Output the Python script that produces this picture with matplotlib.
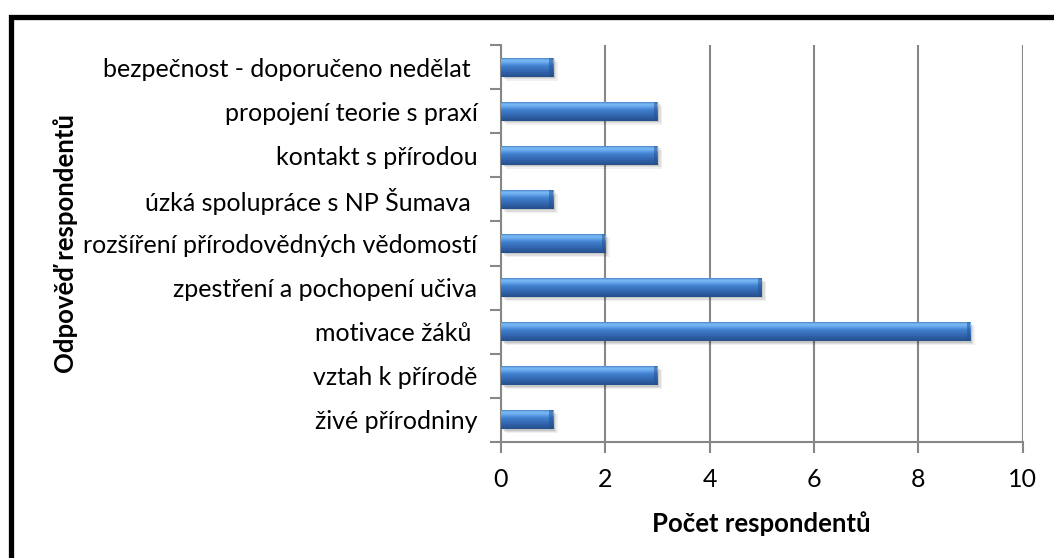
import numpy as np
import matplotlib
matplotlib.use('Agg')
import matplotlib.pyplot as plt
from matplotlib.colors import LinearSegmentedColormap
from matplotlib.patches import Rectangle

# categories listed top to bottom as in the chart
categories = [
    'bezpečnost - doporučeno nedělat ',
    'propojení teorie s praxí',
    'kontakt s přírodou',
    'úzká spolupráce s NP Šumava ',
    'rozšíření přírodovědných vědomostí',
    'zpestření a pochopení učiva',
    'motivace žáků ',
    'vztah k přírodě',
    'živé přírodniny',
]
counts = [1, 3, 3, 1, 2, 5, 9, 3, 1]
x_ticks = [0, 2, 4, 6, 8, 10]

plt.rcParams['font.family'] = ['Lato', 'DejaVu Sans']
grey = '#878787'

W, H = 1054, 558
fig = plt.figure(figsize=(W / 100, H / 100), dpi=100)
ax = fig.add_axes([501 / W, 1 - 442 / H, 521.5 / W, 397 / H])

y = np.arange(len(categories))[::-1]
bars = ax.barh(y, counts, height=0.43, color='#3d78c6', zorder=3)

# cylinder-like shading on each bar
shade = LinearSegmentedColormap.from_list('bar', [
    (0.00, '#24508c'), (0.30, '#3366b0'), (0.60, '#4282d0'),
    (0.80, '#6eaef0'), (0.90, '#78b8f4'), (1.00, '#4c88cc')])
grad = np.linspace(0, 1, 64).reshape(-1, 1)
for b in bars:
    x0, y0, w, h = b.get_x(), b.get_y(), b.get_width(), b.get_height()
    for k, a in [(0.09, 0.06), (0.06, 0.08), (0.03, 0.10)]:
        ax.add_patch(Rectangle((x0 + k, y0 - k), w, h, color='#000000',
                               alpha=a, lw=0, zorder=2))
    ax.imshow(grad, extent=(x0, x0 + w, y0, y0 + h), origin='lower',
              aspect='auto', cmap=shade, zorder=4)
    # darker end cap
    ax.add_patch(Rectangle((x0 + w - 0.07, y0), 0.07, h, color='#24508c',
                           alpha=0.5, lw=0, zorder=5))

ax.set_xlim(0, 10)
ax.set_ylim(-0.5, len(categories) - 0.5)
ax.set_xticks(x_ticks)
ax.set_xticklabels([str(v) for v in x_ticks], fontsize=18)
ax.set_yticks(y)
ax.set_yticklabels(categories, fontsize=18)
ax.set_yticks(np.arange(-0.5, len(categories), 1.0), minor=True)
ax.tick_params(axis='y', which='major', length=0, pad=17)
ax.tick_params(axis='y', which='minor', length=8, width=1.5, color=grey)
ax.tick_params(axis='x', length=8, width=1.5, color=grey, pad=11)

ax.grid(axis='x', color=grey, lw=1.5, zorder=0)
ax.set_axisbelow(True)
for s in ['top', 'right']:
    ax.spines[s].set_visible(False)
for s in ['left', 'bottom']:
    ax.spines[s].set_color(grey)
    ax.spines[s].set_linewidth(1.5)

ax.set_xlabel('Počet respondentů', fontsize=18.5, fontweight='bold', labelpad=14)
fig.text(66 / W, 1 - 243 / H, 'Odpověď respondentů', rotation=90, fontsize=18.5,
         fontweight='bold', ha='center', va='center')

# thick outer frame (only top and left edges fall inside the image)
fig.add_artist(Rectangle((11 / W, -0.5), 2, 0.5 + 1 - 16.5 / H,
                         transform=fig.transFigure, fill=False, lw=3.8,
                         edgecolor='black'))

fig.savefig('out.png', dpi=100)
